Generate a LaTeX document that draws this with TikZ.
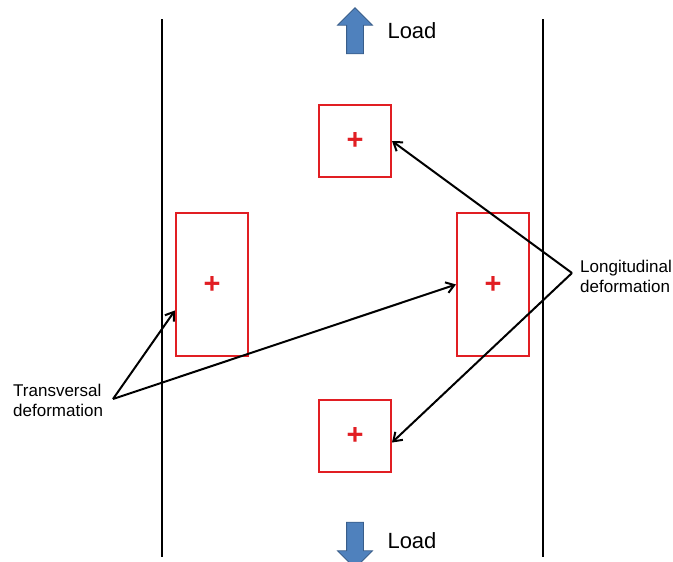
\documentclass[tikz,border=0pt]{standalone}
\usepackage{fontspec}
\setmainfont{Liberation Sans}
\usepackage{xcolor}
\usetikzlibrary{shapes.arrows, arrows.meta, positioning}
\definecolor{SampleRed}{RGB}{225,30,35}
\definecolor{LoadBlue}{RGB}{79,129,189}
\definecolor{LoadEdge}{RGB}{56,93,138}

\begin{document}
\begin{tikzpicture}[
  x={(1pt,0)}, y={(0,-1pt)},
  sample/.style={draw=SampleRed, line width=2pt, minimum width=72pt, inner sep=0pt,
                 text=SampleRed, font=\bfseries\fontsize{29}{29}\selectfont},
  wall/.style={line width=2pt},
  loadarrow/.style={single arrow, draw=LoadEdge, fill=LoadBlue, line width=0.8pt,
                    minimum width=34pt, minimum height=46pt, single arrow head extend=9pt,
                    single arrow head indent=0pt, inner sep=8pt},
  arr/.style={-{Straight Barb[length=8pt, width=11pt]}, line width=2pt},
  lbl/.style={font=\fontsize{17}{20}\selectfont, align=left, inner sep=0pt},
]
\useasboundingbox (0,0) rectangle (673,562);
%% Specimen walls
\draw[wall] (162,19) -- (162,557);
\draw[wall] (543,19) -- (543,557);
%% Load arrows
\node[loadarrow, shape border rotate=90] (upload) at (355,35) {};
\node[font=\fontsize{22}{22}\selectfont, anchor=west] (uptxt) at (384,31) {Load};
\node[loadarrow, shape border rotate=270] (download) at (355,541) {};
\node[font=\fontsize{22}{22}\selectfont, anchor=west] (downtxt) at (384,541) {Load};
%% Samples
\node[sample, minimum height=72pt] (tbox) at (355,141) {+};
\node[sample, minimum height=143pt] (lbox) at (212,284.5) {+};
\node[sample, minimum height=143pt] (rbox) at (493,284.5) {+};
\node[sample, minimum height=72pt] (bbox) at (355,436) {+};
%% Labels
\node[lbl, anchor=west] (trans) at (13,400) {Transversal\\deformation};
\node[lbl, anchor=west] (longi) at (580,276) {Longitudinal\\deformation};
\coordinate (tv) at (113,399);
\coordinate (lv) at (572,273);
%% Pointers
\draw[arr] (tv) -- (lbox.215);
\draw[arr] (tv) -- (rbox.west);
\draw[arr] (lv) -- (tbox.east);
\draw[arr] (lv) -- (bbox.350);
\end{tikzpicture}
\end{document}
